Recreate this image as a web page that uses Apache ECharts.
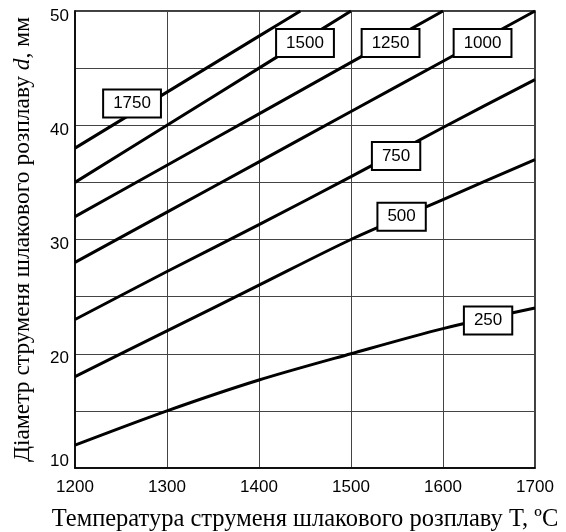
<!DOCTYPE html>
<html>
<head>
<meta charset="utf-8">
<script src="https://cdn.jsdelivr.net/npm/echarts@6/dist/echarts.min.js"></script>
<style>
html,body{margin:0;padding:0;background:#fff;}
#chart{width:566px;height:532px;}
</style>
</head>
<body>
<div id="chart"></div>
<script>
// Temperature T (°C) sample points
const tempPoints = [1200, 1300, 1400, 1500, 1600, 1700];

// Curves: flow parameter -> diameter d (mm) at tempPoints
const curveNames = ['250', '500', '750', '1000', '1250', '1500', '1750'];
const d250  = [12, 15, 17.7, 20, 22.2, 24];
const d500  = [18, 22, 26, 30, 33.5, 37];
const d750  = [23, 27.2, 31.3, 35.5, 39.8, 44];
const d1000 = [28, 32.4, 36.8, 41.2, 45.6, 50];
const d1250 = [32, 36.5, 41, 45.5, 50];
const d1500 = [35, 40, 45, 50];
// 1750 curve reaches the top edge before 1500 °C
const t1750 = [1200, 1300, 1400, 1445];
const d1750 = [38, 42.9, 47.8, 50];

// Label anchor positions (T, d) for the curve labels
const labelT = [1649, 1555, 1549, 1643, 1543, 1450, 1262];
const labelD = [22.9, 32.0, 37.3, 47.2, 47.2, 47.2, 41.9];

const xTicks = [1200, 1300, 1400, 1500, 1600, 1700];
const yTickLabels = [10, 20, 30, 40, 50];

const curveD = [d250, d500, d750, d1000, d1250, d1500, d1750];

function pairs(ts, ds) {
  return ds.map((d, i) => [ts[i], d]);
}

const SANS = '"Liberation Sans", Arial, sans-serif';
const SERIF = '"Liberation Serif", "Times New Roman", serif';

const series = curveNames.map((name, k) => ({
  name: name,
  type: 'line',
  data: k === 6 ? pairs(t1750, d1750) : pairs(tempPoints, curveD[k]),
  symbol: 'none',
  smooth: 0.3,
  lineStyle: { color: '#000', width: 3 },
  z: 3
}));

series.push({
  type: 'scatter',
  symbolSize: 0,
  z: 10,
  silent: true,
  itemStyle: { opacity: 1 },
  data: curveNames.map((n, i) => [labelT[i], labelD[i], n]),
  label: {
    show: true,
    position: 'inside',
    formatter: p => p.value[2],
    fontFamily: SANS,
    fontSize: 17,
    color: '#000',
    opacity: 1,
    textBorderWidth: 0,
    textBorderColor: 'transparent',
    backgroundColor: '#fff',
    borderColor: '#000',
    borderWidth: 2,
    padding: [5, 9, 4, 9]
  }
});

const chart = echarts.init(document.getElementById('chart'), null, { renderer: 'canvas' });
chart.setOption({
  animation: false,
  backgroundColor: '#fff',
  grid: {
    left: 75, right: 31, top: 11, bottom: 64,
    containLabel: false,
    outerBoundsMode: 'none',
    show: true, borderColor: '#000', borderWidth: 1.5, backgroundColor: 'transparent'
  },
  xAxis: {
    type: 'value',
    min: 1200, max: 1700, interval: 100,
    name: 'Температура струменя шлакового розплаву T, ºC',
    nameLocation: 'middle',
    nameGap: 39,
    nameTextStyle: { fontFamily: SERIF, fontSize: 24.5, color: '#000' },
    axisLine: { show: true, lineStyle: { color: '#000', width: 1.5 } },
    axisTick: { show: false },
    axisLabel: {
      fontFamily: SANS, fontSize: 17, color: '#000', margin: 11,
      formatter: v => xTicks.includes(v) ? String(v) : ''
    },
    splitLine: { show: true, lineStyle: { color: '#444', width: 1 } }
  },
  yAxis: {
    type: 'value',
    min: 10, max: 50, interval: 5,
    name: 'Діаметр струменя шлакового розплаву {i|d}, мм',
    nameLocation: 'middle',
    nameGap: 40,
    nameTextStyle: {
      fontFamily: SERIF, fontSize: 23.5, color: '#000',
      rich: { i: { fontFamily: SERIF, fontSize: 23.5, fontStyle: 'italic', color: '#000' } }
    },
    axisLine: { show: true, lineStyle: { color: '#000', width: 1.5 } },
    axisTick: { show: false },
    axisLabel: {
      fontFamily: SANS, fontSize: 17, color: '#000', margin: 6,
      formatter: v => {
        if (!yTickLabels.includes(v)) return '';
        return v === 10 ? '{up|' + v + '}' : '{dn|' + v + '}';
      },
      rich: {
        up: { fontFamily: SANS, fontSize: 17, color: '#000', padding: [0, 0, 14, 0] },
        dn: { fontFamily: SANS, fontSize: 17, color: '#000', padding: [10, 0, 0, 0] }
      }
    },
    splitLine: { show: true, lineStyle: { color: '#444', width: 1 } }
  },
  series: series
});
</script>
</body>
</html>
